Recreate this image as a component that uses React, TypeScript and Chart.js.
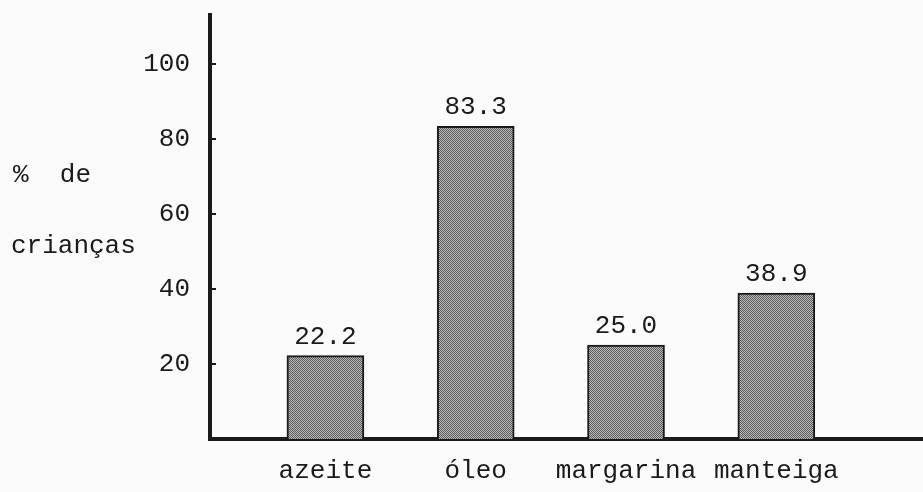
import React, { useEffect, useRef } from "react";
import { Chart, registerables } from "chart.js";

Chart.register(...registerables);

const categories = ["azeite", "óleo", "margarina", "manteiga"];
const values = [22.2, 83.3, 25.0, 38.9];
const valueLabels = ["22.2", "83.3", "25.0", "38.9"];
const yTicks = [20, 40, 60, 80, 100];
const yTickLabels = ["20", "40", "60", "80", "100"];
const yTitleLines = ["%  de", "crianças"];

const FONT = "'Liberation Mono', 'DejaVu Sans Mono', monospace";
const INK = "#1a1a1a";
const FS = 26;

function makePattern(): CanvasPattern | string {
  const c = document.createElement("canvas");
  c.width = 2;
  c.height = 2;
  const g = c.getContext("2d");
  if (!g) return "#8e8e8e";
  g.fillStyle = "#b8b8b8";
  g.fillRect(0, 0, 2, 2);
  g.fillStyle = "#5e5e5e";
  g.fillRect(0, 0, 1, 1);
  g.fillRect(1, 1, 1, 1);
  const p = g.createPattern(c, "repeat");
  return p || "#8e8e8e";
}

const decorPlugin = {
  id: "decor",
  afterDatasetsDraw(chart: any) {
    const ctx = chart.ctx;
    const y = chart.scales.y;
    const area = chart.chartArea;
    ctx.save();
    ctx.strokeStyle = INK;
    ctx.lineWidth = 2;
    yTicks.forEach((t) => {
      const py = Math.round(y.getPixelForValue(t));
      ctx.beginPath();
      ctx.moveTo(area.left, py);
      ctx.lineTo(area.left + 6, py);
      ctx.stroke();
    });
    ctx.fillStyle = INK;
    ctx.font = `${FS}px ${FONT}`;
    ctx.textAlign = "center";
    ctx.textBaseline = "middle";
    const meta = chart.getDatasetMeta(0);
    meta.data.forEach((bar: any, i: number) => {
      ctx.fillText(valueLabels[i], bar.x, bar.y - 19);
    });
    ctx.textAlign = "left";
    ctx.fillText(yTitleLines[0], 13, 175);
    ctx.fillText(yTitleLines[1], 11, 246);
    ctx.restore();
  },
};

export default function App() {
  const ref = useRef<HTMLCanvasElement | null>(null);

  useEffect(() => {
    if (!ref.current) return;
    const pattern = makePattern();
    const chart = new Chart(ref.current, {
      type: "bar",
      data: {
        datasets: [
          {
            data: values.map((v, i) => ({ x: i, y: v })),
            backgroundColor: pattern as any,
            borderColor: INK,
            borderWidth: 2,
            barThickness: 77,
          },
        ],
      },
      options: {
        animation: false,
        responsive: false,
        layout: { padding: { top: 15, left: 0, right: 0, bottom: 0 } },
        plugins: {
          legend: { display: false },
          tooltip: { enabled: false },
        },
        scales: {
          x: {
            type: "linear",
            offset: false,
            min: -0.768,
            max: 3.976,
            grid: { display: false, drawTicks: false, offset: false },
            border: { display: true, color: INK, width: 4 },
            afterFit: (s: any) => {
              s.height = 53;
              s.paddingLeft = 0;
              s.paddingRight = 0;
            },
            afterBuildTicks: (s: any) => {
              s.ticks = categories.map((_, i) => ({ value: i }));
            },
            ticks: {
              padding: 17,
              color: INK,
              font: { family: FONT, size: FS },
              callback: (v: any) => categories[v] ?? "",
            },
          },
          y: {
            type: "linear",
            min: 0,
            max: 113,
            grid: { display: false, drawTicks: false },
            border: { display: true, color: INK, width: 4 },
            afterFit: (s: any) => {
              s.width = 210;
              s.paddingTop = 0;
              s.paddingBottom = 0;
            },
            afterBuildTicks: (s: any) => {
              s.ticks = yTicks.map((v) => ({ value: v }));
            },
            ticks: {
              padding: 20,
              color: INK,
              font: { family: FONT, size: FS },
              callback: (v: any) => yTickLabels[yTicks.indexOf(v)] ?? "",
            },
          },
        },
      },
      plugins: [decorPlugin],
    });
    return () => chart.destroy();
  }, []);

  return (
    <div
      style={{
        position: "fixed",
        left: 0,
        top: 0,
        width: 923,
        height: 492,
        background: "#fbfbfb",
      }}
    >
      <canvas ref={ref} width={923} height={492} style={{ display: "block" }} />
    </div>
  );
}
